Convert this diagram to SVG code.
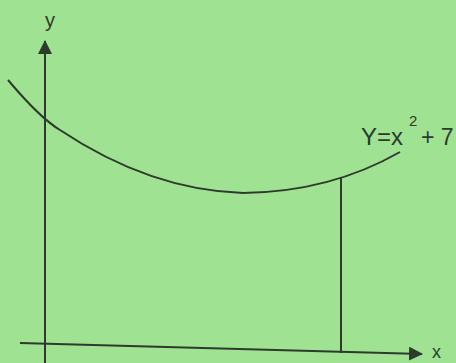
<svg xmlns="http://www.w3.org/2000/svg" width="456" height="363" viewBox="0 0 456 363">
<style>
.ln{fill:none;stroke:#2e3a2c;stroke-width:2}
.t{font-family:"Liberation Sans",Arial,sans-serif;fill:#2e3a2c}
</style>
<defs>
<marker id="ah2" markerWidth="14" markerHeight="14" refX="13" refY="7" orient="auto" markerUnits="userSpaceOnUse">
<path d="M0,0 L14,7 L0,14 Z" fill="#2e3a2c"/>
</marker>
</defs>
<rect width="456" height="363" fill="#9fe292"/>
<g id="connectors">
<path id="y-axis" class="ln" d="M45,363 L45,41" marker-end="url(#ah2)"/>
<path id="x-axis" class="ln" d="M20,343 L422,354" marker-end="url(#ah2)"/>
<path id="ordinate" class="ln" d="M341,177 L341,353"/>
</g>
<g id="curve">
<path class="ln" d="M8,80 Q40,118 60,130 Q150,190 243,193 Q330,192 400,152"/>
</g>
<g id="labels">
<text class="t" x="50" y="27" font-size="20" text-anchor="middle">y</text>
<text class="t" x="432" y="358" font-size="18">x</text>
<text class="t" x="361" y="145" font-size="24">Y=x</text>
<text class="t" x="409" y="126" font-size="15">2</text>
<text class="t" x="421" y="145" font-size="23">+ 7</text>
</g>
</svg>
